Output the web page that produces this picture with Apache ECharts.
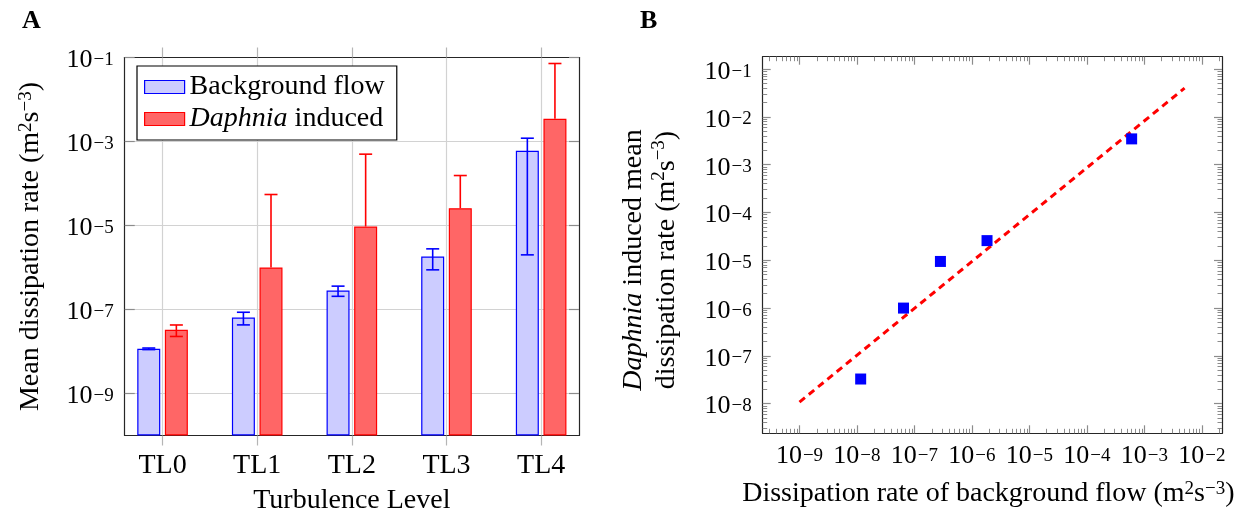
<!DOCTYPE html>
<html><head><meta charset="utf-8">
<script src="https://cdn.jsdelivr.net/npm/echarts@6/dist/echarts.min.js"></script>
<style>html,body{margin:0;padding:0;background:#fff}#c{width:1252px;height:517px}</style>
</head><body><div id="c"></div>
<script>
// ---------------- data ----------------
const categories = ['TL0', 'TL1', 'TL2', 'TL3', 'TL4'];
const bgMean = [1.16e-8, 6.45e-8, 2.83e-7, 1.83e-6, 6.0e-4];
const bgStd  = [0.05e-8, 2.15e-8, 0.77e-7, 0.95e-6, 5.98e-4];
const daMean = [3.28e-8, 1.0e-6, 9.46e-6, 2.58e-5, 3.47e-3];
const daStd  = [1.0e-8, 5.37e-5, 4.9e-4, 1.29e-4, 6.85e-2];
const fitLine = [[1e-9, 1.08e-8], [5e-3, 4.0e-2]];
const yTicksA = [1e-9, 1e-7, 1e-5, 1e-3, 1e-1];
const xTicksB = [1e-9, 1e-8, 1e-7, 1e-6, 1e-5, 1e-4, 1e-3, 1e-2];
const yTicksB = [1e-8, 1e-7, 1e-6, 1e-5, 1e-4, 1e-3, 1e-2, 1e-1];
const minorMult = [2, 3, 4, 5, 6, 7, 8, 9];
const minorDecades = [-10, -9, -8, -7, -6, -5, -4, -3, -2, -1];

// ---------------- styles ----------------
const FONT = 'Liberation Serif';
const FS = 28;
const BAR_W = 23, BAR_GAP = 0.2;
const BAR_OFF = BAR_W * (1 + BAR_GAP) / 2;
const AXIS_C = '#262626', GRID_C = '#d2d2d2', TICK_C = '#8c8c8c';

const minorTicks = [];
minorDecades.forEach(d => minorMult.forEach(m => minorTicks.push(m * Math.pow(10, d))));

const supRich = {
  b: { fontFamily: FONT, fontSize: 26, color: '#000', lineHeight: 26, padding: [6, 0, 0, 0] },
  s: { fontFamily: FONT, fontSize: 19, color: '#000', verticalAlign: 'top', lineHeight: 19, padding: [6, 0, 0, 1] }
};
const nameRich = {
  s: { fontFamily: FONT, fontSize: 19, color: '#000', verticalAlign: 'top', lineHeight: 19 },
  i: { fontFamily: FONT, fontSize: FS, color: '#000', fontStyle: 'italic' }
};
function powLabel(v) {
  const e = Math.round(Math.log10(v));
  return '{b|10}{s|' + (e < 0 ? '\u2212' : '') + Math.abs(e) + '}';
}

function errSeries(mean, std, color, side) {
  return {
    type: 'custom', xAxisIndex: 0, yAxisIndex: 0, z: 5, silent: true,
    data: mean.map((m, i) => [i, m, m - std[i], m + std[i]]),
    encode: { x: 0, y: 1 },
    renderItem(params, api) {
      const i = api.value(0), m = api.value(1), lo = api.value(2), hi = api.value(3);
      const pHi = api.coord([i, hi]);
      const pLo = lo > 0 ? api.coord([i, lo]) : api.coord([i, m]);
      const x = pHi[0] + side * BAR_OFF;
      const st = { stroke: color, lineWidth: 1.6 };
      const ch = [
        { type: 'line', shape: { x1: x, y1: pHi[1], x2: x, y2: pLo[1] }, style: st },
        { type: 'line', shape: { x1: x - 6.5, y1: pHi[1], x2: x + 6.5, y2: pHi[1] }, style: st }
      ];
      if (lo > 0) ch.push({ type: 'line', shape: { x1: x - 6.5, y1: pLo[1], x2: x + 6.5, y2: pLo[1] }, style: st });
      return { type: 'group', children: ch };
    }
  };
}

const noSplit = { show: false };
const line = { show: true, onZero: false, lineStyle: { color: AXIS_C, width: 1.2 } };
const xB = { gridIndex: 1, type: 'log', logBase: 10, min: Math.pow(10, -9.64), max: Math.pow(10, -1.65) };
const yB = { gridIndex: 1, type: 'log', logBase: 10, min: Math.pow(10, -8.62), max: Math.pow(10, -0.74) };

const chart = echarts.init(document.getElementById('c'));
chart.setOption({
  animation: false,
  backgroundColor: '#fff',
  title: [
    { text: 'A', left: 22, top: 8, padding: 0, textStyle: { fontFamily: FONT, fontWeight: 'bold', fontSize: 26, color: '#000' } },
    { text: 'B', left: 640, top: 8, padding: 0, textStyle: { fontFamily: FONT, fontWeight: 'bold', fontSize: 26, color: '#000' } }
  ],
  legend: {
    left: 137, top: 66, orient: 'vertical',
    padding: [5, 12, 5, 7], itemGap: 0, itemWidth: 40, itemHeight: 13,
    borderColor: '#000', borderWidth: 1.2, backgroundColor: '#fff',
    textStyle: { fontFamily: FONT, fontSize: FS, color: '#000', lineHeight: 32, rich: nameRich },
    formatter: n => n === 'Daphnia induced' ? '{i|Daphnia} induced' : n,
    data: [
      { name: 'Background flow', icon: 'rect', itemStyle: { color: '#ccccff', borderColor: '#0000ff', borderWidth: 1.2 } },
      { name: 'Daphnia induced', icon: 'rect', itemStyle: { color: '#ff6666', borderColor: '#ff0000', borderWidth: 1.2 } }
    ]
  },
  grid: [
    { left: 124.7, top: 57.5, width: 454.3, height: 378, outerBoundsMode: 'none' },
    { left: 762.7, top: 56.7, width: 459.3, height: 376.6, outerBoundsMode: 'none' }
  ],
  xAxis: [
    { gridIndex: 0, type: 'value', min: -0.4, max: 4.4, position: 'bottom', axisLine: line,
      axisTick: { inside: false, length: 10, customValues: [0, 1, 2, 3, 4], lineStyle: { color: '#b5b5b5', width: 1.2 } },
      axisLabel: { customValues: [0, 1, 2, 3, 4], formatter: v => categories[Math.round(v)], margin: 16,
        fontFamily: FONT, fontSize: FS, color: '#000' },
      splitLine: { show: true, lineStyle: { color: GRID_C, width: 1.2 } },
      name: 'Turbulence Level', nameLocation: 'middle', nameGap: 51,
      nameTextStyle: { fontFamily: FONT, fontSize: FS, color: '#000' } },
    { gridIndex: 0, type: 'value', min: -0.4, max: 4.4, position: 'top', axisLine: line,
      axisTick: { inside: false, length: 10, customValues: [0, 1, 2, 3, 4], lineStyle: { color: '#b5b5b5', width: 1.2 } },
      axisLabel: { show: false }, splitLine: noSplit },
    Object.assign({}, xB, { position: 'bottom', axisLine: line,
      axisTick: { inside: true, length: 8, customValues: xTicksB, lineStyle: { color: TICK_C, width: 1.2 } },
      axisLabel: { customValues: xTicksB, formatter: powLabel, margin: 7, rich: supRich, color: '#000' },
      splitLine: noSplit,
      name: 'Dissipation rate of background flow (m{s|2}s{s|\u22123})', nameLocation: 'middle', nameGap: 46,
      nameTextStyle: { fontFamily: FONT, fontSize: FS, color: '#000', rich: nameRich, padding: [0, 8, 0, 0] } }),
    Object.assign({}, xB, { position: 'top', axisLine: line,
      axisTick: { inside: true, length: 8, customValues: xTicksB, lineStyle: { color: TICK_C, width: 1.2 } },
      axisLabel: { show: false }, splitLine: noSplit }),
    Object.assign({}, xB, { position: 'bottom', axisLine: { show: false },
      axisTick: { inside: true, length: 4.5, customValues: minorTicks, lineStyle: { color: TICK_C, width: 1 } },
      axisLabel: { show: false }, splitLine: noSplit }),
    Object.assign({}, xB, { position: 'top', axisLine: { show: false },
      axisTick: { inside: true, length: 4.5, customValues: minorTicks, lineStyle: { color: TICK_C, width: 1 } },
      axisLabel: { show: false }, splitLine: noSplit })
  ],
  yAxis: [
    { gridIndex: 0, type: 'log', logBase: 10, min: 1e-10, max: 1e-1, startValue: 1e-10, position: 'left', axisLine: line,
      axisTick: { show: true, inside: true, length: 10, customValues: yTicksA, lineStyle: { color: TICK_C, width: 1.2 } },
      axisLabel: { customValues: yTicksA, formatter: powLabel, margin: 11, rich: supRich, color: '#000' },
      splitLine: { show: true, lineStyle: { color: GRID_C, width: 1.2 } },
      name: 'Mean dissipation rate (m{s|2}s{s|\u22123})', nameLocation: 'middle', nameRotate: 90, nameGap: 80,
      nameTextStyle: { fontFamily: FONT, fontSize: FS, color: '#000', rich: nameRich } },
    { gridIndex: 0, type: 'log', logBase: 10, min: 1e-10, max: 1e-1, position: 'right', axisLine: line,
      axisTick: { show: true, inside: true, length: 10, customValues: yTicksA, lineStyle: { color: TICK_C, width: 1.2 } },
      axisLabel: { show: false }, splitLine: noSplit },
    Object.assign({}, yB, { position: 'left', axisLine: line,
      axisTick: { show: true, inside: true, length: 8, customValues: yTicksB, lineStyle: { color: TICK_C, width: 1.2 } },
      axisLabel: { customValues: yTicksB, formatter: powLabel, margin: 11, rich: supRich, color: '#000' },
      splitLine: noSplit,
      name: '{i|Daphnia} induced mean\ndissipation rate (m{s|2}s{s|\u22123})', nameLocation: 'middle', nameRotate: 90, nameGap: 80,
      nameTextStyle: { fontFamily: FONT, fontSize: FS, color: '#000', lineHeight: 33, rich: nameRich, padding: [0, 30, 0, 0] } }),
    Object.assign({}, yB, { position: 'right', axisLine: line,
      axisTick: { show: true, inside: true, length: 8, customValues: yTicksB, lineStyle: { color: TICK_C, width: 1.2 } },
      axisLabel: { show: false }, splitLine: noSplit }),
    Object.assign({}, yB, { position: 'left', axisLine: { show: false },
      axisTick: { show: true, inside: true, length: 4.5, customValues: minorTicks, lineStyle: { color: TICK_C, width: 1 } },
      axisLabel: { show: false }, splitLine: noSplit }),
    Object.assign({}, yB, { position: 'right', axisLine: { show: false },
      axisTick: { show: true, inside: true, length: 4.5, customValues: minorTicks, lineStyle: { color: TICK_C, width: 1 } },
      axisLabel: { show: false }, splitLine: noSplit })
  ],
  series: [
    { name: 'Background flow', type: 'bar', xAxisIndex: 0, yAxisIndex: 0, barWidth: BAR_W, barGap: (BAR_GAP * 100) + '%',
      data: bgMean.map((v, i) => [i, v]),
      itemStyle: { color: '#ccccff', borderColor: '#0000ff', borderWidth: 1.2 } },
    { name: 'Daphnia induced', type: 'bar', xAxisIndex: 0, yAxisIndex: 0, barWidth: BAR_W, barGap: (BAR_GAP * 100) + '%',
      data: daMean.map((v, i) => [i, v]),
      itemStyle: { color: '#ff6666', borderColor: '#ff0000', borderWidth: 1.2 } },
    errSeries(bgMean, bgStd, '#0000ff', -1),
    errSeries(daMean, daStd, '#ff0000', 1),
    { type: 'line', xAxisIndex: 2, yAxisIndex: 2, data: fitLine, showSymbol: false, silent: true, z: 2,
      lineStyle: { color: '#ff0000', width: 3, type: [7, 5] } },
    { type: 'scatter', xAxisIndex: 2, yAxisIndex: 2, symbol: 'rect', symbolSize: 11, z: 3,
      data: bgMean.map((x, i) => [x, daMean[i]]),
      itemStyle: { color: '#0000ff', opacity: 1 } }
  ]
});
</script></body></html>
